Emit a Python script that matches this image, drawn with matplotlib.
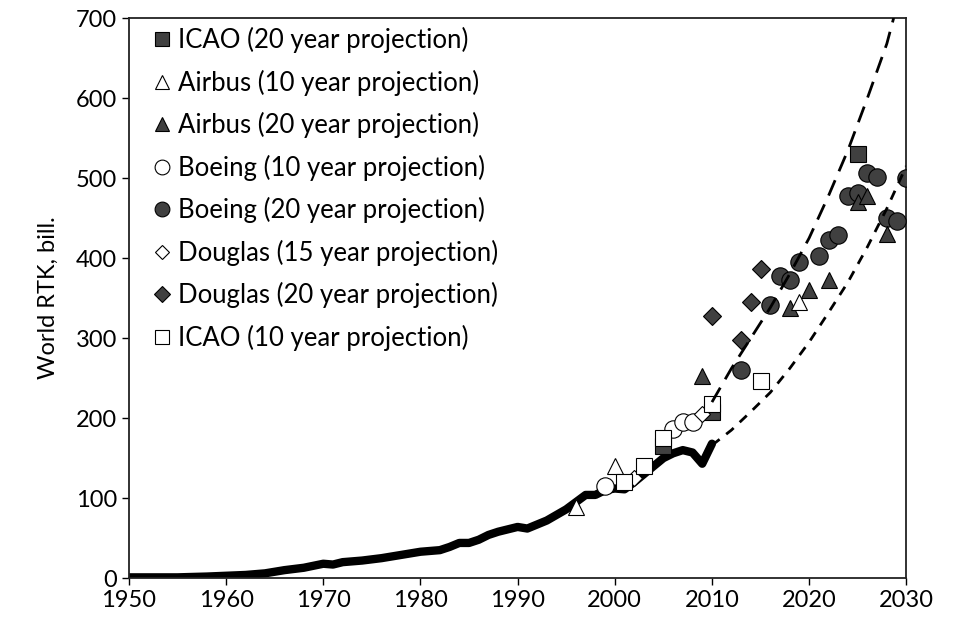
import numpy as np
import matplotlib.pyplot as plt

plt.rcParams['font.family'] = ['Lato', 'DejaVu Sans']

# 历史数据（粗黑线）
hist_year = [1950, 1955, 1958, 1960, 1962, 1964, 1966, 1968, 1970, 1971, 1972, 1974, 1976,
             1978, 1980, 1982, 1983, 1984, 1985, 1986, 1987, 1988, 1989, 1990, 1991, 1992,
             1993, 1994, 1995, 1996, 1997, 1998, 1999, 2000, 2001, 2002, 2003, 2004, 2005,
             2006, 2007, 2008, 2009, 2010]
hist_rtk = [1, 1, 2, 3, 4, 6, 10, 13, 18, 17, 20, 22, 25,
            29, 33, 35, 39, 44, 44, 48, 54, 58, 61, 64, 62, 67,
            72, 79, 86, 95, 104, 104, 110, 112, 111, 120, 130, 140, 150,
            156, 160, 157, 143, 168]

# 虚线趋势
up_year = [2010, 2012, 2014, 2016, 2018, 2020, 2022, 2024, 2026, 2028, 2028.7]
up_rtk = [220, 262, 300, 338, 380, 425, 478, 535, 600, 668, 700]
low_year = [2010, 2012, 2014, 2016, 2018, 2020, 2022, 2024, 2026, 2028, 2030]
low_rtk = [166, 185, 208, 232, 262, 295, 332, 370, 414, 462, 515]

# 各机构预测
icao20_year = [2005, 2010, 2025]
icao20_rtk = [165, 208, 530]
airbus10_year = [1996, 2000, 2019]
airbus10_rtk = [89, 140, 345]
airbus20_year = [2009, 2018, 2020, 2022, 2025, 2026, 2028]
airbus20_rtk = [253, 338, 360, 372, 470, 477, 430]
boeing10_year = [1999, 2006, 2007, 2008]
boeing10_rtk = [115, 187, 195, 195]
boeing20_year = [2013, 2016, 2017, 2018, 2019, 2021, 2022, 2023, 2024, 2025, 2026, 2027, 2028, 2029, 2030]
boeing20_rtk = [260, 341, 378, 372, 395, 402, 422, 429, 477, 481, 506, 501, 450, 446, 500]
douglas15_year = [2002, 2009]
douglas15_rtk = [125, 205]
douglas20_year = [2010, 2013, 2014, 2015]
douglas20_rtk = [328, 297, 345, 386]
icao10_year = [2001, 2003, 2005, 2010, 2015]
icao10_rtk = [120, 140, 175, 218, 247]

dark = '#404040'
fig = plt.figure(figsize=(9.55, 6.21), dpi=100)
ax = fig.add_axes([0.135, 0.069, 0.814, 0.902])

ax.plot(hist_year, hist_rtk, color='black', lw=6, solid_capstyle='round', zorder=2)

h = {}
h['b20'], = ax.plot(boeing20_year, boeing20_rtk, 'o', ms=12.5, mfc=dark, mec='black', mew=0.8, zorder=3)
h['a20'], = ax.plot(airbus20_year, airbus20_rtk, '^', ms=11.5, mfc=dark, mec='black', mew=0.8, zorder=3)
h['d20'], = ax.plot(douglas20_year, douglas20_rtk, 'D', ms=9, mfc=dark, mec='black', mew=0.8, zorder=3)
h['i20'], = ax.plot(icao20_year, icao20_rtk, 's', ms=12, mfc=dark, mec='black', mew=0.8, zorder=3)
h['b10'], = ax.plot(boeing10_year, boeing10_rtk, 'o', ms=12.5, mfc='white', mec='black', mew=0.8, zorder=4)
h['a10'], = ax.plot(airbus10_year, airbus10_rtk, '^', ms=11.5, mfc='white', mec='black', mew=0.8, zorder=4)
h['d15'], = ax.plot(douglas15_year, douglas15_rtk, 'D', ms=8, mfc='white', mec='black', mew=0.8, zorder=4)
h['i10'], = ax.plot(icao10_year, icao10_rtk, 's', ms=12, mfc='white', mec='black', mew=0.8, zorder=4)

ax.plot(up_year, up_rtk, color='black', lw=2, dashes=(6, 3.5), zorder=5)
ax.plot(low_year, low_rtk, color='black', lw=2, dashes=(3.5, 3), zorder=5)

labels = ['ICAO (20 year projection)', 'Airbus (10 year projection)', 'Airbus (20 year projection)',
          'Boeing (10 year projection)', 'Boeing (20 year projection)', 'Douglas (15 year projection)',
          'Douglas (20 year projection)', 'ICAO (10 year projection)']
keys = ['i20', 'a10', 'a20', 'b10', 'b20', 'd15', 'd20', 'i10']
leg = ax.legend([h[k] for k in keys], labels, loc='upper left', bbox_to_anchor=(0.01, 1.016),
                frameon=False, fontsize=18.5, markerscale=0.85, handlelength=0.6,
                handletextpad=0.3, labelspacing=0.64, borderaxespad=0.3)

ax.set_xlim(1950, 2030)
ax.set_ylim(0, 700)
ax.set_xticks(np.arange(1950, 2031, 10))
ax.set_yticks(np.arange(0, 701, 100))
ax.tick_params(direction='out', length=5, width=1, labelsize=17, top=False, right=False)
ax.set_ylabel('World RTK, bill.', fontsize=17, labelpad=12)
for s in ax.spines.values():
    s.set_linewidth(1.3)
    s.set_color('#222222')

fig.savefig('out.png', dpi=100)
